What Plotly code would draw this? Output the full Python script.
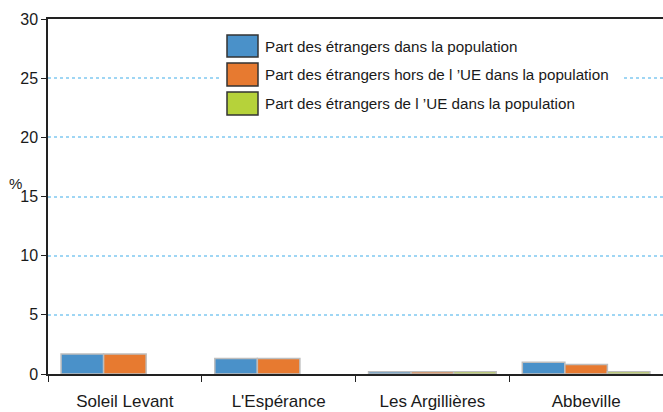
import plotly.graph_objects as go

categories = ["Soleil Levant", "L'Espérance", "Les Argillières", "Abbeville"]
series_names = [
    "Part des étrangers dans la population",
    "Part des étrangers hors de l \u2019UE dans la population",
    "Part des étrangers de l \u2019UE dans la population",
]
part_etrangers = [1.7, 1.3, 0.2, 1.0]
part_hors_ue = [1.7, 1.3, 0.2, 0.8]
part_ue = [None, None, 0.2, 0.2]
y_ticks = [0, 5, 10, 15, 20, 25, 30]

colors = ["#4a91c9", "#e77a30", "#b6d23a"]
values = [part_etrangers, part_hors_ue, part_ue]

FONT = "Liberation Sans, Arial, sans-serif"

fig = go.Figure()
for name, vals, col in zip(series_names, values, colors):
    fig.add_trace(go.Bar(
        x=categories, y=vals, name=name,
        marker=dict(color=col, line=dict(color="#bdbdbd", width=1.5)),
        showlegend=False,
    ))

W, H = 663, 412
L, R, T, B = 48, 0, 19, 38
pw, ph = W - L - R, H - T - B

def px(x):
    return (x - L) / pw

def py(y):
    return (H - B - y) / ph

shapes = [dict(type="rect", xref="paper", yref="paper",
               x0=px(222), x1=px(622), y0=py(120), y1=py(30),
               fillcolor="white", line=dict(width=0), layer="above")]
annotations = []
rows = [(35, 57), (63, 86), (92, 115)]
for (top, bot), col, name in zip(rows, colors, series_names):
    shapes.append(dict(type="rect", xref="paper", yref="paper",
                       x0=px(227), x1=px(258), y0=py(bot), y1=py(top),
                       fillcolor=col, line=dict(color="#333333", width=1.5),
                       layer="above"))
    annotations.append(dict(xref="paper", yref="paper", x=px(263),
                            y=py((top + bot) / 2), text=name, showarrow=False,
                            xanchor="left", yanchor="middle",
                            font=dict(family=FONT, size=15.2, color="#1a1a1a")))

annotations.append(dict(xref="paper", yref="paper", x=px(15), y=py(183),
                        text="%", showarrow=False, xanchor="center",
                        yanchor="middle",
                        font=dict(family=FONT, size=15, color="#1a1a1a")))

fig.update_layout(
    width=W, height=H,
    margin=dict(l=L, r=R, t=T, b=B, pad=0, autoexpand=False),
    paper_bgcolor="white", plot_bgcolor="white",
    barmode="group", bargap=0.17, bargroupgap=0,
    font=dict(family=FONT, color="#1a1a1a"),
    shapes=shapes, annotations=annotations,
    xaxis=dict(
        showline=True, linecolor="#222222", linewidth=1.5, mirror=True,
        ticks="outside", tickson="boundaries", ticklen=6, tickcolor="#222222",
        tickwidth=1.2, showgrid=False, automargin=False,
        ticklabelstandoff=11,
        tickfont=dict(family=FONT, size=17, color="#1a1a1a"),
    ),
    yaxis=dict(
        range=[0, 30], tickvals=y_ticks, showline=True, linecolor="#222222",
        linewidth=1.5, ticks="outside", ticklen=5, tickcolor="#222222",
        tickwidth=1.2, showgrid=True, gridcolor="#9fd6f4", griddash="dot",
        gridwidth=1.5, zeroline=False, automargin=False,
        tickfont=dict(family=FONT, size=16, color="#1a1a1a"),
    ),
)

fig.write_html("out.html", config={"displayModeBar": False},
               post_script="document.body.style.margin='0';")
